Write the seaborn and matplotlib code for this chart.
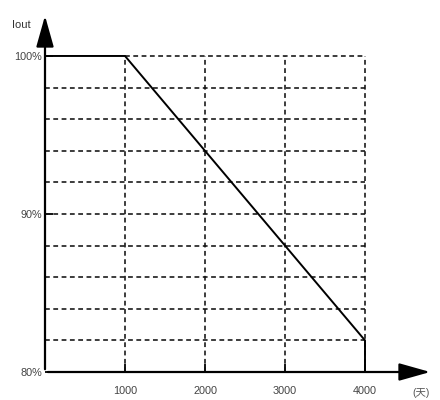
import matplotlib
matplotlib.use("Agg")
import matplotlib.pyplot as plt
import seaborn as sns
import pandas as pd

sns.set_theme(style="white")
plt.rcParams['font.family'] = ['Liberation Sans', 'Noto Sans CJK SC', 'DejaVu Sans']

# Data
curve_days = [0, 1000, 4000, 4000]
curve_iout = [100, 100, 82, 80]
grid_y = [82, 84, 86, 88, 90, 92, 94, 96, 98, 100]
grid_x = [1000, 2000, 3000, 4000]
x_ticks = [1000, 2000, 3000, 4000]
y_ticks = [80, 90, 100]
y_tick_labels = ["80%", "90%", "100%"]
x_unit = "(天)"
y_name = "Iout"

df = pd.DataFrame({"days": curve_days, "iout": curve_iout})

fig = plt.figure(figsize=(4.4, 4.0), dpi=100)
ax = fig.add_axes([45/440, 28/400, (433-45)/440, (372-13)/400])

xmax = 4850
ymax = 102.72
ax.set_xlim(0, xmax)
ax.set_ylim(80, ymax)

# dotted grid
dot = (0, (3, 2.2))
for y in grid_y:
    x0 = 1000 if y == 100 else 0
    ax.hlines(y, x0, 4000, colors="#111111", linestyles=[dot], lw=1.15, zorder=1)
for x in grid_x:
    ax.vlines(x, 80, 100, colors="#111111", linestyles=[dot], lw=1.15, zorder=1)

sns.lineplot(data=df, x="days", y="iout", sort=False, color="black", lw=1.4,
             estimator=None, ax=ax, zorder=3)

for s in ax.spines.values():
    s.set_visible(False)

# axes with arrows
ax.annotate("", xy=(xmax, 80), xytext=(0, 80),
            arrowprops=dict(arrowstyle="-|>,head_length=1.6,head_width=0.45", color="black", lw=1.6),
            annotation_clip=False)
ax.annotate("", xy=(0, ymax), xytext=(0, 80),
            arrowprops=dict(arrowstyle="-|>,head_length=1.6,head_width=0.45", color="black", lw=1.6),
            annotation_clip=False)

ax.set_xticks(x_ticks)
ax.set_xticklabels([str(v) for v in x_ticks])
ax.set_yticks(y_ticks)
ax.set_yticklabels(y_tick_labels)
ax.tick_params(axis="x", direction="in", length=6, width=1.3, pad=10, labelsize=7.8, colors="black",
               labelcolor="#444444", bottom=True)
ax.tick_params(axis="y", direction="in", length=6, width=1.3, pad=2, labelsize=7.8, colors="black",
               labelcolor="#444444", left=True)
ax.set_xlabel("")
ax.set_ylabel("")

fig.text(12/440, 1 - 25/400, y_name, fontsize=8, color="#333333", ha="left", va="center")
fig.text(412/440, 1 - 393/400, x_unit, fontsize=7.5, color="#555555", ha="left", va="center")

fig.savefig("out.png", dpi=100, facecolor="white")
